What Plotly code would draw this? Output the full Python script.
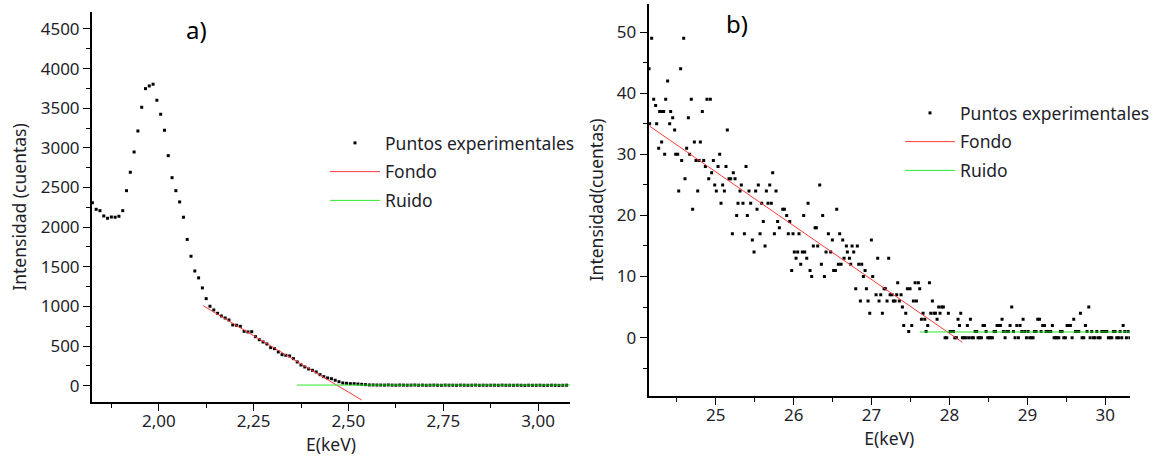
import plotly.graph_objects as go

# ---------------- Panel a) data ----------------
E_a = [1.825, 1.835, 1.845, 1.855, 1.865, 1.875, 1.885, 1.895, 1.905, 1.915,
       1.925, 1.935, 1.945, 1.955, 1.965, 1.975, 1.985, 1.995, 2.005, 2.015,
       2.025, 2.035, 2.045, 2.055, 2.065, 2.075, 2.085, 2.095, 2.105, 2.115,
       2.125, 2.135, 2.145, 2.155, 2.165, 2.175, 2.185, 2.195, 2.205, 2.215,
       2.225, 2.235, 2.245, 2.255, 2.265, 2.275, 2.285, 2.295, 2.305, 2.315,
       2.325, 2.335, 2.345, 2.355, 2.365, 2.375, 2.385, 2.395, 2.405, 2.415,
       2.425, 2.435, 2.445, 2.455, 2.465, 2.475, 2.485, 2.495, 2.505, 2.515,
       2.525, 2.535, 2.545, 2.555, 2.565, 2.575, 2.585, 2.595, 2.605, 2.615,
       2.625, 2.635, 2.645, 2.655, 2.665, 2.675, 2.685, 2.695, 2.705, 2.715,
       2.725, 2.735, 2.745, 2.755, 2.765, 2.775, 2.785, 2.795, 2.805, 2.815,
       2.825, 2.835, 2.845, 2.855, 2.865, 2.875, 2.885, 2.895, 2.905, 2.915,
       2.925, 2.935, 2.945, 2.955, 2.965, 2.975, 2.985, 2.995, 3.005, 3.015,
       3.025, 3.035, 3.045, 3.055, 3.065, 3.075]
I_a = [2309, 2225, 2208, 2141, 2112, 2128, 2125, 2137, 2208, 2460,
       2692, 2948, 3213, 3512, 3747, 3781, 3803, 3601, 3424, 3222,
       2902, 2624, 2460, 2318, 2125, 1845, 1633, 1447, 1360, 1233,
       1098, 1002, 955, 913, 879, 854, 829, 766, 762, 749,
       686, 678, 681, 618, 580, 551, 526, 480, 467, 425,
       391, 383, 375, 341, 299, 261, 236, 211, 194, 173,
       139, 114, 97, 88, 68, 50, 34, 30, 25, 25,
       21, 17, 13, 9, 9, 8, 8, 7, 9, 7,
       6, 8, 7, 6, 7, 8, 6, 7, 5, 6,
       7, 6, 5, 7, 6, 6, 5, 7, 6, 5,
       6, 7, 5, 6, 5, 6, 6, 5, 7, 5,
       6, 5, 6, 5, 4, 6, 5, 5, 6, 4,
       5, 6, 5, 4, 5, 6]
fondo_a_E = [2.117, 2.535]
fondo_a_I = [1009, -181]
ruido_a_E = [2.364, 3.084]
ruido_a_I = [8, 8]

# ---------------- Panel b) data ----------------
E_b = [24.144, 24.152, 24.178, 24.204, 24.229, 24.242, 24.268, 24.281, 24.306, 24.306,
       24.332, 24.345, 24.358, 24.383, 24.409, 24.422, 24.448, 24.473, 24.486, 24.512,
       24.525, 24.550, 24.563, 24.589, 24.606, 24.627, 24.649, 24.666, 24.687, 24.704,
       24.726, 24.747, 24.769, 24.786, 24.803, 24.828, 24.846, 24.867, 24.888, 24.910,
       24.931, 24.948, 24.970, 24.987, 25.008, 25.030, 25.051, 25.068, 25.089, 25.111,
       25.132, 25.149, 25.171, 25.192, 25.214, 25.226, 25.248, 25.269, 25.286, 25.312,
       25.329, 25.350, 25.368, 25.389, 25.406, 25.427, 25.449, 25.470, 25.492, 25.513,
       25.530, 25.547, 25.569, 25.590, 25.611, 25.633, 25.650, 25.671, 25.693, 25.714,
       25.731, 25.753, 25.774, 25.795, 25.817, 25.860, 25.881, 25.911, 25.932, 25.950,
       25.975, 25.992, 26.009, 26.031, 26.052, 26.069, 26.091, 26.112, 26.129,
       26.142, 26.168, 26.185, 26.211, 26.232, 26.253, 26.275, 26.292, 26.309, 26.335,
       26.356, 26.373, 26.395, 26.416, 26.446, 26.476, 26.497, 26.514, 26.536, 26.553,
       26.574, 26.591, 26.609, 26.630, 26.647, 26.677, 26.690, 26.716, 26.733, 26.750,
       26.771, 26.797, 26.818, 26.835, 26.857, 26.874, 26.895, 26.917, 26.934, 26.955,
       26.977, 26.998, 27.015, 27.058, 27.079, 27.096, 27.118, 27.139, 27.161, 27.178,
       27.199, 27.220, 27.238, 27.263, 27.280, 27.302, 27.323, 27.336, 27.357, 27.379,
       27.396, 27.413, 27.439, 27.460, 27.477, 27.494, 27.516, 27.537, 27.559, 27.576,
       27.601, 27.618, 27.640, 27.661, 27.683, 27.700, 27.721, 27.743, 27.760, 27.781,
       27.802, 27.820, 27.841, 27.862, 27.879, 27.901, 27.922, 27.944, 27.965, 27.986,
       28.008, 28.029, 28.051, 28.068, 28.089, 28.110, 28.128, 28.145, 28.166, 28.188,
       28.209, 28.230, 28.247, 28.269, 28.286, 28.307, 28.329, 28.350, 28.367, 28.389,
       28.410, 28.431, 28.449, 28.470, 28.491, 28.513, 28.530, 28.551, 28.573, 28.590,
       28.611, 28.633, 28.654, 28.675, 28.692, 28.714, 28.735, 28.757, 28.778, 28.799,
       28.821, 28.842, 28.864, 28.885, 28.906, 28.928, 28.945, 28.966, 28.988, 29.009,
       29.030, 29.052, 29.073, 29.090, 29.112, 29.133, 29.155, 29.176, 29.197, 29.219,
       29.240, 29.257, 29.279, 29.300, 29.321, 29.343, 29.364, 29.381, 29.403, 29.424,
       29.446, 29.467, 29.488, 29.510, 29.531, 29.552, 29.574, 29.595, 29.617, 29.638,
       29.659, 29.681, 29.702, 29.724, 29.745, 29.766, 29.788, 29.805, 29.826, 29.848,
       29.869, 29.891, 29.912, 29.933, 29.955, 29.976, 29.997, 30.019, 30.040, 30.062,
       30.083, 30.104, 30.126, 30.147, 30.169, 30.190, 30.211, 30.229, 30.250, 30.271,
       30.293, 30.315]
I_b = [44, 35, 49, 39, 38, 35, 31, 37, 37, 32,
       37, 30, 39, 42, 35, 37, 36, 34, 30, 30,
       24, 44, 29, 49, 26, 31, 36, 30, 39, 21,
       32, 29, 24, 29, 32, 37, 29, 28, 39, 26,
       39, 27, 29, 25, 24, 28, 30, 22, 25, 24,
       28, 34, 26, 26, 17, 27, 26, 20, 22, 24,
       25, 22, 17, 28, 20, 24, 22, 16, 14, 24,
       21, 25, 17, 22, 19, 15, 24, 22, 25, 22,
       27, 17, 24, 19, 18, 21, 21, 20, 17, 19,
       11, 17, 14, 13, 14, 17, 12, 14, 20,
       14, 13, 22, 11, 10, 15, 18, 18, 15, 25,
       12, 20, 10, 14, 17, 14, 16, 11, 11, 21,
       12, 17, 12, 16, 13, 15, 14, 13, 12, 15,
       14, 8, 15, 12, 6, 12, 10, 11, 8, 6,
       4, 16, 10, 7, 13, 6, 7, 4, 8, 8,
       6, 13, 7, 7, 6, 6, 7, 9, 6, 7,
       5, 2, 4, 8, 1, 8, 2, 6, 9, 6,
       9, 8, 3, 4, 3, 1, 2, 9, 4, 6,
       4, 4, 3, 5, 4, 5, 5, 0, 0, 4,
       1, 1, 1, 0, 0, 3, 2, 4, 0, 0,
       0, 2, 0, 3, 0, 0, 1, 1, 0, 0,
       0, 2, 2, 1, 0, 0, 0, 0, 1, 1,
       2, 2, 2, 3, 1, 0, 1, 1, 2, 5,
       1, 0, 2, 0, 2, 1, 3, 1, 0, 1,
       0, 0, 0, 1, 1, 3, 3, 1, 2, 2,
       1, 1, 1, 1, 2, 0, 0, 0, 0, 1,
       1, 0, 0, 2, 2, 2, 0, 3, 1, 1,
       1, 4, 0, 0, 2, 1, 5, 0, 1, 0,
       0, 1, 0, 0, 1, 1, 1, 1, 0, 0,
       0, 1, 1, 0, 0, 1, 0, 2, 1, 0,
       1, 0]
fondo_b_E = [24.153, 28.166]
fondo_b_I = [34.6, -0.76]
ruido_b_E = [27.62, 30.317]
ruido_b_I = [0.93, 0.93]

series_names = ["Puntos experimentales", "Fondo", "Ruido"]
panel_labels = ["a)", "b)"]
x_title = "E(keV)"
y_titles = ["Intensidad (cuentas)", "Intensidad(cuentas)"]

RED = "#ff3b3b"
GREEN = "#2ee62e"
FONT = "Noto Sans"
TXT = "#1e1e2a"
TICK_SIZE = 17
TEXT_SIZE = 17.5

fig = go.Figure()

def add_panel(E, I, fE, fI, rE, rI, xa, ya, leg):
    fig.add_trace(go.Scatter(x=E, y=I, mode="markers", name=series_names[0],
                             marker=dict(symbol="square", size=3, color="black", line=dict(width=0)),
                             xaxis=xa, yaxis=ya, legend=leg, legendgroup=leg + "p"))
    fig.add_trace(go.Scatter(x=fE, y=fI, mode="lines", name=series_names[1],
                             line=dict(color=RED, width=1),
                             xaxis=xa, yaxis=ya, legend=leg, legendgroup=leg + "f"))
    fig.add_trace(go.Scatter(x=rE, y=rI, mode="lines", name=series_names[2],
                             line=dict(color=GREEN, width=1),
                             xaxis=xa, yaxis=ya, legend=leg, legendgroup=leg + "r"))

add_panel(E_a, I_a, fondo_a_E, fondo_a_I, ruido_a_E, ruido_a_I, "x", "y", "legend")
add_panel(E_b, I_b, fondo_b_E, fondo_b_I, ruido_b_E, ruido_b_I, "x2", "y2", "legend2")

W, H = 1161, 456

def axis_common():
    return dict(showgrid=False, zeroline=False, showline=True, linecolor="black", linewidth=2,
                ticks="outside", ticklen=7, tickwidth=1.3, tickcolor="black",
                tickfont=dict(family=FONT, size=TICK_SIZE, color=TXT),
                mirror=False)

def minor(d, t0):
    return dict(ticks="outside", ticklen=4, tickwidth=1.3, tickcolor="black", dtick=d, tick0=t0)

xa = axis_common()
xa.update(domain=[92 / W, 570 / W], range=[1.824, 3.084], tick0=2.0, dtick=0.25,
          tickformat=".2f", anchor="y", minor=minor(0.125, 2.0), ticklabelstandoff=-4,
          title=dict(text=x_title, font=dict(family=FONT, size=TEXT_SIZE, color=TXT), standoff=3))
ya = axis_common()
ya.update(domain=[1 - 402 / H, 1 - 12 / H], range=[-206, 4714], tick0=0, dtick=500,
          tickformat="d", anchor="x", minor=minor(250, 0),
          title=dict(text=y_titles[0], font=dict(family=FONT, size=TEXT_SIZE, color=TXT), standoff=10))
xb = axis_common()
xb.update(domain=[648.7 / W, 1130 / W], range=[24.14, 30.317], tick0=25, dtick=1,
          tickformat="d", anchor="y2", minor=minor(0.5, 25), ticklabelstandoff=-4,
          title=dict(text=x_title, font=dict(family=FONT, size=TEXT_SIZE, color=TXT), standoff=3))
yb = axis_common()
yb.update(domain=[1 - 395.7 / H, 1 - 4 / H], range=[-9.5, 54.6], tick0=0, dtick=10,
          tickformat="d", anchor="x2", minor=minor(5, 0),
          title=dict(text=y_titles[1], font=dict(family=FONT, size=TEXT_SIZE, color=TXT), standoff=9))

legend_common = dict(bgcolor="rgba(0,0,0,0)", borderwidth=0, itemwidth=50,
                     font=dict(family=FONT, size=TEXT_SIZE, color=TXT), tracegroupgap=3,
                     xanchor="left", yanchor="top", itemclick=False, itemdoubleclick=False)
leg1 = dict(legend_common, x=325 / W, y=1 - 125 / H)
leg2 = dict(legend_common, x=900 / W, y=1 - 95 / H)

fig.update_layout(
    width=W, height=H, autosize=False,
    margin=dict(l=0, r=0, t=0, b=0),
    paper_bgcolor="white", plot_bgcolor="white",
    separators=",.",
    font=dict(family=FONT, color=TXT),
    xaxis=xa, yaxis=ya, xaxis2=xb, yaxis2=yb,
    legend=leg1, legend2=leg2,
    showlegend=True,
    annotations=[
        dict(text=panel_labels[0], x=196 / W, y=1 - 30 / H, xref="paper", yref="paper",
             showarrow=False, font=dict(family=FONT, size=24, color="black"), xanchor="center", yanchor="middle"),
        dict(text=panel_labels[1], x=737 / W, y=1 - 24 / H, xref="paper", yref="paper",
             showarrow=False, font=dict(family=FONT, size=24, color="black"), xanchor="center", yanchor="middle"),
    ],
)

fig.write_html("out.html", config={"displayModeBar": False},
               post_script="document.body.style.margin='0';document.body.style.overflow='hidden';")
